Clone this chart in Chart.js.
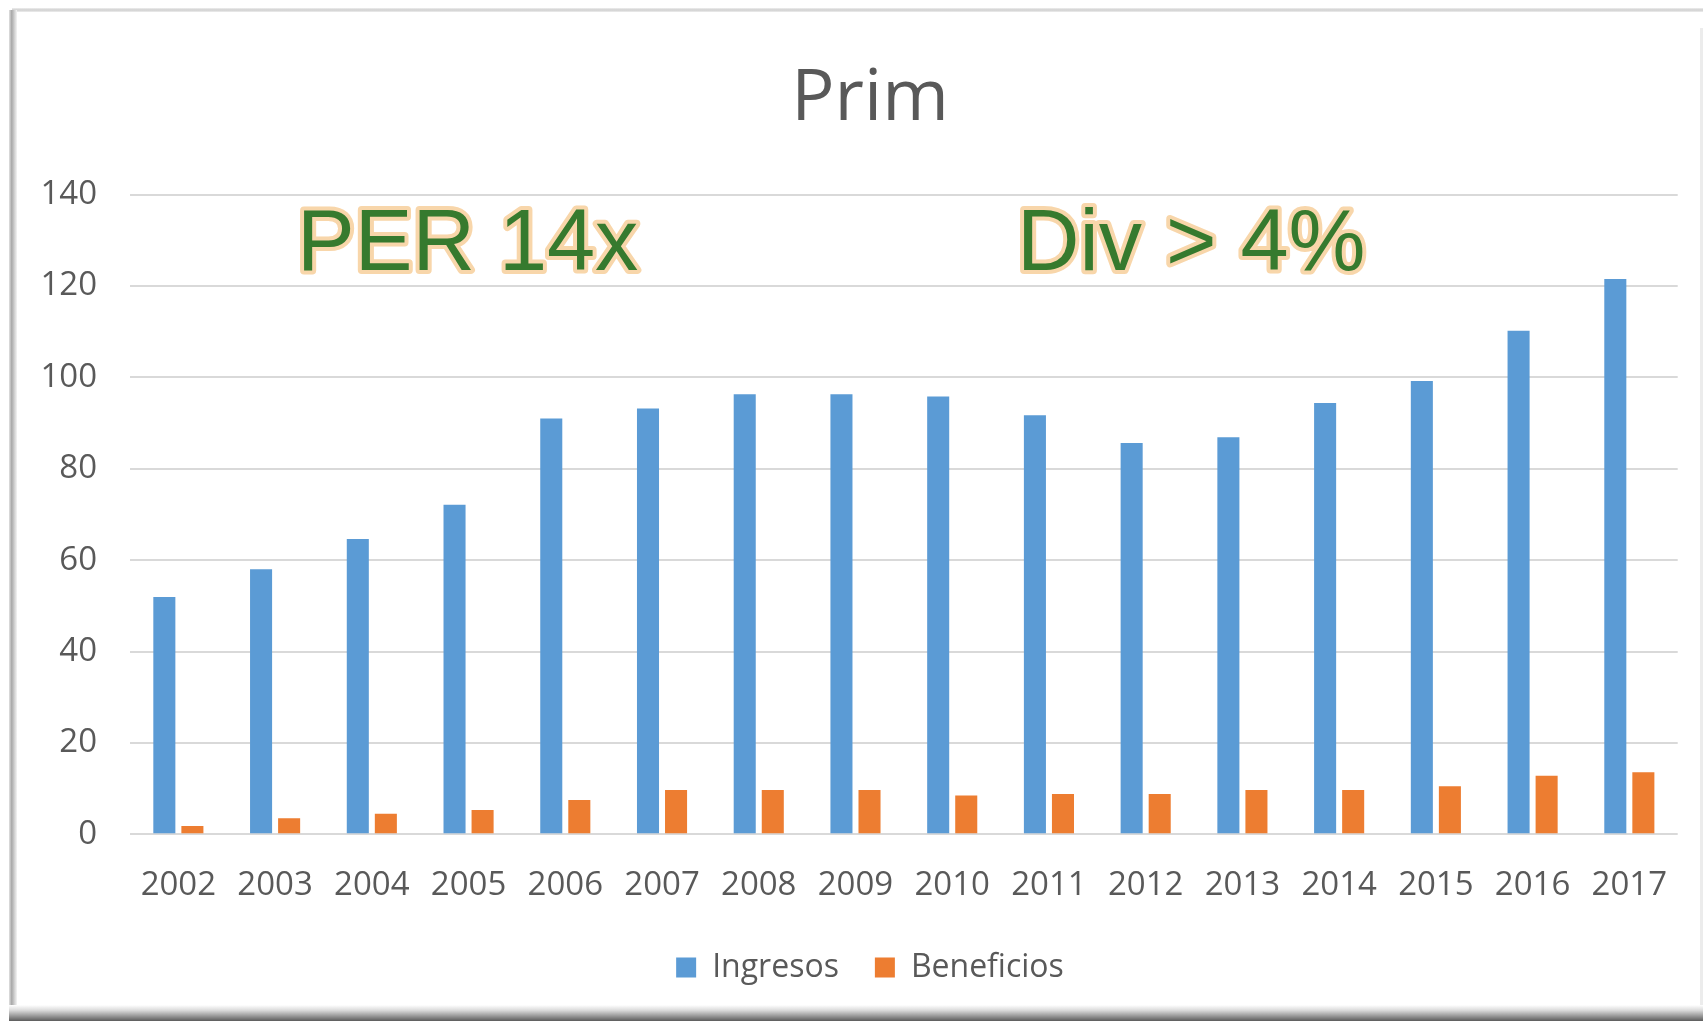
<!DOCTYPE html>
<html><head><meta charset="utf-8">
<script src="https://cdn.jsdelivr.net/npm/chart.js@4.4.1/dist/chart.umd.min.js"></script>
<style>
html,body{margin:0;padding:0;background:#fff;overflow:hidden}
#wrap{position:relative;width:1703px;height:1021px}
canvas{position:absolute;left:0;top:0}
.f{position:absolute;pointer-events:none}
</style></head><body>
<div id="wrap">
<canvas id="c" width="1703" height="1021"></canvas>
<div class="f" style="left:12px;top:8px;width:1691px;height:4px;background:linear-gradient(#eeeeee,#cfcfcf,#eeeeee)"></div>
<div class="f" style="left:9px;top:10px;width:8px;height:1000px;background:linear-gradient(90deg,#e2e2e2,#a8a8a8,#cfcfcf,#f4f4f4)"></div>
<div class="f" style="left:1700px;top:28px;width:3px;height:980px;background:#ececec"></div>
<div class="f" style="left:9px;top:1005px;width:1694px;height:16px;background:linear-gradient(#ffffff,#dadada,#9c9c9c,#5c5c5c)"></div>
</div>
<script>
const categories = ['2002','2003','2004','2005','2006','2007','2008','2009','2010','2011','2012','2013','2014','2015','2016','2017'];
const ingresos   = [51.9, 58.0, 64.6, 72.1, 91.0, 93.2, 96.3, 96.3, 95.8, 91.7, 85.6, 86.9, 94.4, 99.2, 110.2, 121.5];
const beneficios = [1.8, 3.5, 4.5, 5.3, 7.5, 9.7, 9.7, 9.7, 8.5, 8.8, 8.8, 9.7, 9.7, 10.5, 12.8, 13.6];
const seriesNames = ['Ingresos', 'Beneficios'];
const yMin = 0, yMax = 140, yStep = 20;
const chartTitle = 'Prim';
const annotations = ['PER 14x', 'Div > 4%'];

const annotationPlugin = {
  id: 'notes',
  afterDatasetsDraw(chart) {
    const ctx = chart.ctx;
    const spots = [[297, 269.5], [1017, 269.5]];
    ctx.save();
    ctx.font = '86.5px "Liberation Sans", Arial, sans-serif';
    ctx.textBaseline = 'alphabetic';
    ctx.textAlign = 'left';
    ctx.lineJoin = 'round';
    annotations.forEach((t, i) => {
      const [x, y] = spots[i];
      ctx.lineWidth = 8;
      ctx.strokeStyle = '#f8d6aa';
      ctx.strokeText(t, x, y);
      ctx.fillStyle = '#367a2e';
      ctx.fillText(t, x, y);
    });
    ctx.restore();
  }
};

new Chart(document.getElementById('c'), {
  type: 'bar',
  data: {
    labels: categories,
    datasets: [
      { label: seriesNames[0], data: ingresos, backgroundColor: '#5b9bd5', categoryPercentage: 0.58, barPercentage: 0.786 },
      { label: seriesNames[1], data: beneficios, backgroundColor: '#ed7d31', categoryPercentage: 0.58, barPercentage: 0.786 }
    ]
  },
  options: {
    responsive: false,
    animation: false,
    devicePixelRatio: 1,
    layout: { padding: { left: 40, right: 3, top: 0, bottom: 27.5 } },
    plugins: {
      title: {
        display: true, text: chartTitle, color: '#595959',
        font: { family: '"Open Sans", sans-serif', size: 72, weight: 'normal', lineHeight: 1 },
        padding: { top: 63.3, bottom: 59.2 }
      },
      legend: {
        position: 'bottom',
        labels: {
          color: '#595959', boxWidth: 20, boxHeight: 20, padding: 36,
          font: { family: '"Open Sans", sans-serif', size: 32 }
        }
      },
      tooltip: { enabled: false }
    },
    scales: {
      x: {
        grid: { display: false, drawTicks: false },
        border: { display: false },
        ticks: { color: '#595959', padding: 31.6, font: { family: '"Open Sans", sans-serif', size: 33 }, maxRotation: 0, autoSkip: false },
        afterFit(s) { s.height = 81.2; }
      },
      y: {
        min: yMin, max: yMax,
        grid: { color: '#d9d9d9', lineWidth: 2, drawTicks: false },
        border: { display: false },
        ticks: { stepSize: yStep, color: '#595959', padding: 33, font: { family: '"Open Sans", sans-serif', size: 33 } },
        afterFit(s) { s.width = 90; }
      },
      yRightSpace: {
        position: 'right',
        display: true,
        grid: { display: false, drawTicks: false },
        border: { display: false },
        ticks: { display: false },
        afterFit(s) { s.width = 22.3; }
      }
    }
  },
  plugins: [annotationPlugin]
});
</script>
</body></html>
